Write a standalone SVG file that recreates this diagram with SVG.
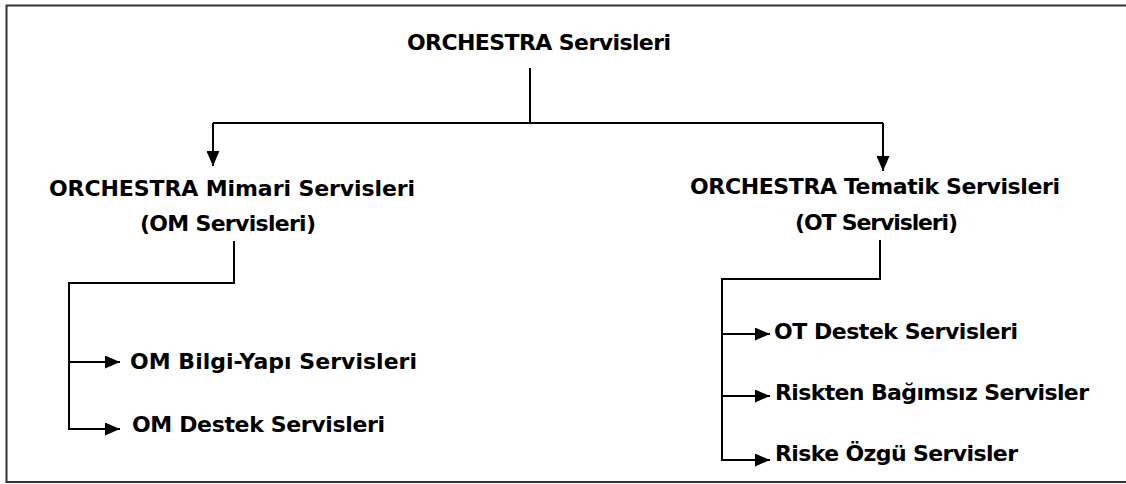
<svg xmlns="http://www.w3.org/2000/svg" width="1126" height="484" viewBox="0 0 1126 484">
<style>
.t{font-family:"DejaVu Sans","Liberation Sans",sans-serif;font-weight:bold;font-size:22px;fill:#000}
.c{fill:none;stroke:#000;stroke-width:2}
.a{fill:none;stroke:#000;stroke-width:2;marker-end:url(#ah)}
</style>
<defs>
<marker id="ah" markerUnits="userSpaceOnUse" markerWidth="15" markerHeight="13" refX="15" refY="6.5" orient="auto">
<path d="M0,0 L15,6.5 L0,13 z" fill="#000"/>
</marker>
</defs>
<rect x="0" y="0" width="1126" height="484" fill="#fff"/>
<path d="M1126,5.5 H6.5 V482 H1126" fill="none" stroke="#333" stroke-width="2"/>
<g id="connectors">
<path class="c" d="M530,68 V123"/>
<path class="c" d="M213,123 H883"/>
<path class="a" d="M213,123 V166"/>
<path class="a" d="M883,123 V171"/>
<path class="a" d="M234,241 V283 H69 V429 H120"/>
<path class="a" d="M69,362 H120"/>
<path class="a" d="M880,240 V279 H722 V460 H770"/>
<path class="a" d="M722,334 H770"/>
<path class="a" d="M722,396 H770"/>
</g>
<g id="root"><text class="t" x="407" y="50" textLength="264">ORCHESTRA Servisleri</text></g>
<g id="om"><text class="t" x="49" y="196" textLength="366">ORCHESTRA Mimari Servisleri</text>
<text class="t" x="140" y="231" textLength="176">(OM Servisleri)</text></g>
<g id="ot"><text class="t" x="690" y="194" textLength="370">ORCHESTRA Tematik Servisleri</text>
<text class="t" x="795" y="230" textLength="163">(OT Servisleri)</text></g>
<g id="om-bilgi"><text class="t" x="130" y="369" textLength="287">OM Bilgi-Yapı Servisleri</text></g>
<g id="om-destek"><text class="t" x="132" y="432" textLength="253">OM Destek Servisleri</text></g>
<g id="ot-destek"><text class="t" x="774" y="339" textLength="244">OT Destek Servisleri</text></g>
<g id="riskten"><text class="t" x="775" y="400" textLength="314">Riskten Bağımsız Servisler</text></g>
<g id="riske"><text class="t" x="775" y="461" textLength="243">Riske Özgü Servisler</text></g>
</svg>
